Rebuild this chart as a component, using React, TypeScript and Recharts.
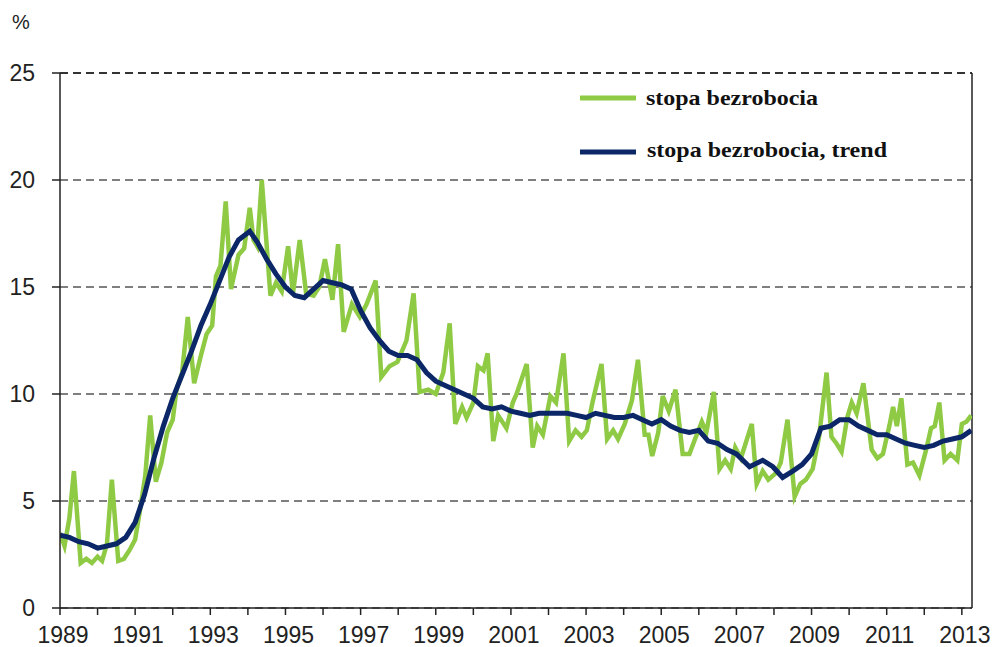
import React from 'react';
import { LineChart, Line, XAxis, YAxis, CartesianGrid, ReferenceLine } from 'recharts';

// stopa bezrobocia (decimal years)
const rateYears = [
  1989.0, 1989.12, 1989.25, 1989.37, 1989.55, 1989.7, 1989.85,
  1990.0, 1990.12, 1990.25, 1990.38, 1990.55, 1990.7, 1990.85,
  1991.0, 1991.15, 1991.27, 1991.4, 1991.55, 1991.7, 1991.85,
  1992.0, 1992.1, 1992.25, 1992.4, 1992.57, 1992.75, 1992.9,
  1993.05, 1993.15, 1993.27, 1993.41, 1993.55, 1993.75, 1993.9,
  1994.05, 1994.15, 1994.25, 1994.37, 1994.6, 1994.75, 1994.9,
  1995.07, 1995.2, 1995.38, 1995.55, 1995.75, 1995.9,
  1996.05, 1996.25, 1996.4, 1996.55, 1996.77, 1996.98,
  1997.16, 1997.4, 1997.55, 1997.77, 1997.98,
  1998.22, 1998.41, 1998.57, 1998.8,
  1999.0, 1999.2, 1999.37, 1999.52, 1999.7, 1999.82,
  2000.0, 2000.12, 2000.27, 2000.38, 2000.53, 2000.66, 2000.88,
  2001.05, 2001.15, 2001.42, 2001.58, 2001.7, 2001.85,
  2002.05, 2002.2, 2002.4, 2002.55, 2002.72, 2002.88,
  2003.02, 2003.17, 2003.41, 2003.56, 2003.72, 2003.85,
  2004.03, 2004.22, 2004.38, 2004.56, 2004.66, 2004.76, 2004.92,
  2005.04, 2005.2, 2005.38, 2005.57, 2005.75, 2005.9,
  2006.08, 2006.2, 2006.4, 2006.55, 2006.7, 2006.85, 2006.97,
  2007.12, 2007.41, 2007.54, 2007.7, 2007.85,
  2008.05, 2008.18, 2008.36, 2008.55, 2008.7, 2008.85,
  2009.03, 2009.2, 2009.4, 2009.53, 2009.66, 2009.8, 2009.95,
  2010.07, 2010.2, 2010.38, 2010.6, 2010.75, 2010.9,
  2011.07, 2011.17, 2011.27, 2011.39, 2011.55, 2011.7, 2011.87,
  2012.05, 2012.18, 2012.28, 2012.4, 2012.54, 2012.7, 2012.88,
  2013.0, 2013.12, 2013.25,
];
const rateValues = [
  3.5, 2.9, 4.2, 6.4, 2.1, 2.3, 2.1,
  2.4, 2.2, 3.0, 6.0, 2.2, 2.3, 2.7,
  3.2, 4.8, 6.2, 9.0, 5.9, 6.8, 8.2,
  8.8, 10.2, 11.0, 13.6, 10.5, 11.8, 12.8,
  13.2, 15.5, 16.0, 19.0, 14.9, 16.5, 16.8,
  18.7, 17.2, 16.9, 20.0, 14.6, 15.2, 14.8,
  16.9, 14.7, 17.2, 14.7, 14.6, 15.0,
  16.3, 14.4, 17.0, 12.9, 14.2, 13.6,
  14.2, 15.3, 10.8, 11.3, 11.5,
  12.5, 14.7, 10.1, 10.2,
  10.0, 11.0, 13.3, 8.6, 9.4, 8.9,
  9.6, 11.3, 11.1, 11.9, 7.8, 9.0, 8.4,
  9.6, 10.0, 11.4, 7.5, 8.5, 8.1,
  9.9, 9.6, 11.9, 7.8, 8.3, 8.0,
  8.3, 9.6, 11.4, 7.9, 8.3, 7.9,
  8.6, 9.7, 11.6, 8.1, 8.1, 7.1, 8.2,
  9.9, 9.2, 10.2, 7.2, 7.2, 7.9,
  8.7, 8.2, 10.1, 6.5, 6.9, 6.5, 7.5,
  7.0, 8.6, 5.8, 6.4, 6.0,
  6.3, 6.8, 8.8, 5.2, 5.8, 6.0,
  6.5, 8.0, 11.0, 8.0, 7.7, 7.3, 8.9,
  9.6, 9.1, 10.5, 7.4, 7.0, 7.2,
  8.5, 9.4, 8.5, 9.8, 6.7, 6.8, 6.2,
  7.4, 8.4, 8.5, 9.6, 6.9, 7.2, 6.9,
  8.6, 8.7, 9.0,
];

// stopa bezrobocia, trend
const trendYears = [
  1989.0, 1989.25, 1989.5, 1989.75, 1990.0, 1990.25, 1990.5, 1990.75,
  1991.0, 1991.25, 1991.5, 1991.75, 1992.0, 1992.25, 1992.5, 1992.75,
  1993.0, 1993.25, 1993.5, 1993.75, 1994.05, 1994.25, 1994.5, 1994.75,
  1995.0, 1995.25, 1995.5, 1995.75, 1996.0, 1996.25, 1996.5, 1996.75,
  1997.0, 1997.25, 1997.5, 1997.75, 1998.0, 1998.25, 1998.5, 1998.75,
  1999.0, 1999.25, 1999.5, 1999.75, 2000.0, 2000.25, 2000.5, 2000.75,
  2001.0, 2001.25, 2001.5, 2001.75, 2002.0, 2002.5, 2002.75,
  2003.0, 2003.25, 2003.5, 2003.75, 2004.0, 2004.25, 2004.5, 2004.75,
  2005.0, 2005.25, 2005.5, 2005.75, 2006.0, 2006.25, 2006.5, 2006.75,
  2007.0, 2007.35, 2007.7, 2007.97, 2008.23, 2008.5, 2008.75,
  2009.0, 2009.25, 2009.5, 2009.75, 2010.0, 2010.25, 2010.5, 2010.75,
  2011.0, 2011.25, 2011.5, 2011.75, 2012.0, 2012.25, 2012.5, 2012.75,
  2013.0, 2013.25,
];
const trendValues = [
  3.4, 3.3, 3.1, 3.0, 2.8, 2.9, 3.0, 3.3,
  4.0, 5.3, 7.0, 8.5, 9.8, 10.9, 12.0, 13.2,
  14.2, 15.3, 16.4, 17.2, 17.6, 17.1, 16.3, 15.6,
  15.0, 14.6, 14.5, 14.9, 15.3, 15.2, 15.1, 14.9,
  13.9, 13.1, 12.5, 12.0, 11.8, 11.8, 11.6, 11.0,
  10.6, 10.4, 10.2, 10.0, 9.8, 9.4, 9.3, 9.4,
  9.2, 9.1, 9.0, 9.1, 9.1, 9.1, 9.0,
  8.9, 9.1, 9.0, 8.9, 8.9, 9.0, 8.8, 8.6,
  8.8, 8.5, 8.3, 8.2, 8.3, 7.8, 7.7, 7.4,
  7.2, 6.6, 6.9, 6.6, 6.1, 6.4, 6.7,
  7.2, 8.4, 8.5, 8.8, 8.8, 8.5, 8.3, 8.1,
  8.1, 7.9, 7.7, 7.6, 7.5, 7.6, 7.8, 7.9,
  8.0, 8.3,
];

const seriesNames = ['stopa bezrobocia', 'stopa bezrobocia, trend'];
const yTicks = [0, 5, 10, 15, 20, 25];
const yearTicks = [
  1989, 1990, 1991, 1992, 1993, 1994, 1995, 1996, 1997, 1998, 1999, 2000,
  2001, 2002, 2003, 2004, 2005, 2006, 2007, 2008, 2009, 2010, 2011, 2012, 2013,
];
const xMax = 2013.27;

const rateData = rateYears.map((year, i) => ({ year, value: rateValues[i] }));
const trendData = trendYears.map((year, i) => ({ year, value: trendValues[i] }));

const GREEN = '#8fca45';
const NAVY = '#0b2767';
const AXIS_FONT = '"Liberation Sans", Arial, sans-serif';
const LEGEND_FONT = '"Liberation Serif", "Times New Roman", serif';

const YearTick = (props: any) => {
  const { x, y, payload } = props;
  if (payload.value % 2 === 0) return <g />;
  return (
    <text x={x + 3} y={y + 2} dy="0.71em" textAnchor="middle" fontSize={23} fill="#222" fontFamily={AXIS_FONT}>
      {payload.value}
    </text>
  );
};

const App: React.FC = () => {
  return (
    <div style={{ position: 'absolute', left: 0, top: 0, width: 993, height: 647, background: '#fff' }}>
      <div style={{ position: 'absolute', left: 12, top: 11, fontSize: 20, fontFamily: AXIS_FONT, color: '#222' }}>%</div>
      <LineChart width={993} height={647} margin={{ top: 73, right: 21, left: 10, bottom: 9 }}>
        <CartesianGrid vertical={false} stroke="#555" strokeDasharray="8 5" strokeWidth={1.3} />
        <XAxis
          dataKey="year"
          type="number"
          domain={[1989, xMax]}
          ticks={yearTicks}
          interval={0}
          height={30}
          tickSize={7}
          tickMargin={10}
          tick={<YearTick />}
          stroke="#222"
          strokeWidth={1.5}
          allowDataOverflow
        />
        <YAxis
          type="number"
          domain={[0, 25]}
          ticks={yTicks}
          width={50}
          tickSize={8}
          tickMargin={17}
          stroke="#222"
          strokeWidth={1.5}
          tick={{ fontSize: 23, fill: '#222', fontFamily: AXIS_FONT }}
        />
        <ReferenceLine y={25} stroke="#333" strokeDasharray="8 5" strokeWidth={2.2} />
        <ReferenceLine x={xMax} stroke="#222" strokeWidth={1.5} />
        <Line
          data={rateData}
          dataKey="value"
          name={seriesNames[0]}
          type="linear"
          stroke={GREEN}
          strokeWidth={4.5}
          dot={false}
          isAnimationActive={false}
        />
        <Line
          data={trendData}
          dataKey="value"
          name={seriesNames[1]}
          type="linear"
          stroke={NAVY}
          strokeWidth={5}
          dot={false}
          isAnimationActive={false}
        />
      </LineChart>
      <svg style={{ position: 'absolute', left: 570, top: 80 }} width={340} height={90}>
        <line x1={10} y1={18} x2={66} y2={18} stroke={GREEN} strokeWidth={5} />
        <text x={76} y={25} fontSize={22} fontWeight="bold" fontFamily={LEGEND_FONT} fill="#111" textLength={172} lengthAdjust="spacingAndGlyphs">
          {seriesNames[0]}
        </text>
        <line x1={10} y1={72} x2={66} y2={72} stroke={NAVY} strokeWidth={5} />
        <text x={77} y={77} fontSize={22} fontWeight="bold" fontFamily={LEGEND_FONT} fill="#111" textLength={240} lengthAdjust="spacingAndGlyphs">
          {seriesNames[1]}
        </text>
      </svg>
    </div>
  );
};

export default App;
